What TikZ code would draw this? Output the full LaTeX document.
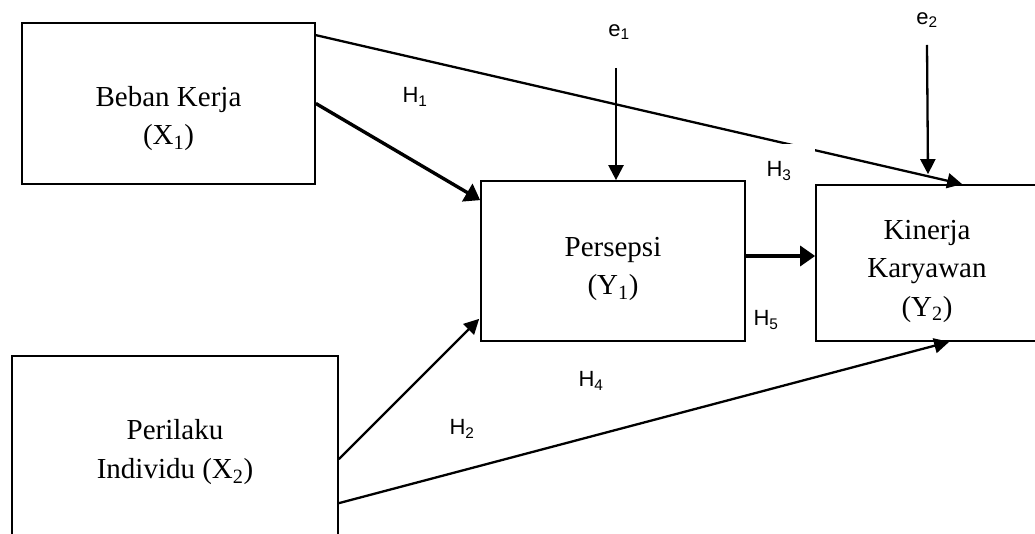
\documentclass[tikz,border=0pt]{standalone}
\usepackage{fontspec}
\setmainfont{Liberation Serif}
\newfontfamily\arialf{Liberation Sans}
\usetikzlibrary{arrows.meta,calc}
\begin{document}
\begin{tikzpicture}[x=1pt,y=-1pt,
  box/.style={draw,line width=1.7pt,inner sep=0pt},
  boxtext/.style={align=center,inner sep=0pt,font=\fontsize{29}{38.5}\selectfont},
  lbl/.style={font=\arialf\fontsize{22}{24}\selectfont,inner sep=1pt},
  arr/.style={line width=2.3pt,-{Triangle[length=15pt,width=15pt]}},
  boldarr/.style={line width=3.4pt,-{Triangle[length=15pt,width=20pt]}}]
\useasboundingbox (0,0) rectangle (1035,534);
\clip (0,0) rectangle (1035,534);

% boxes
\node[box,minimum width=293pt,minimum height=161pt] (x1) at (168.5,103.5) {};
\node[box,minimum width=326pt,minimum height=192pt] (x2) at (175,452) {};
\node[box,minimum width=264pt,minimum height=160pt] (y1) at (613,261) {};
\node[box,minimum width=222pt,minimum height=156pt] (y2) at (927,263) {};

% box texts
\node[boxtext] (x1t) at ($(x1)+(0,15)$) {Beban Kerja\\(X\textsubscript{1})};
\node[boxtext] (x2t) at (x2) {Perilaku\\Individu (X\textsubscript{2})};
\node[boxtext] (y1t) at ($(y1)+(0,8)$) {Persepsi\\(Y\textsubscript{1})};
\node[boxtext] (y2t) at ($(y2)+(0,8)$) {Kinerja\\Karyawan\\(Y\textsubscript{2})};

% labels
\node[lbl] (h1) at (415,97) {H\textsubscript{1}};
\node[lbl] (h2) at (462,429) {H\textsubscript{2}};
\node[lbl] (h4) at (591,381) {H\textsubscript{4}};
\node[lbl] (h5) at (766,320) {H\textsubscript{5}};
\node[lbl] (e1) at (619,32) {e\textsubscript{1}};
\node[lbl] (e2) at (927,20) {e\textsubscript{2}};

% H3 path (with gap behind its label)
\draw[arr] ($(x1.north east)+(0,13)$) -- ($(y2.north west)+(147,0)$);
\fill[white] (750,144) rectangle (814.6,197);
\node[lbl] (h3) at (779,171) {H\textsubscript{3}};

% other connectors
\draw[boldarr] (x1.east) -- ($(y1.north west)+(0,20)$);
\draw[boldarr] ($(y1.east)+(0,-5)$) -- ($(y2.west)+(0,-7)$);
\draw[arr] ($(x2.north east)+(0,104)$) -- ($(y1.south west)+(-1,-23)$);
\draw[arr] ($(x2.north east)+(0,148)$) -- ($(y2.south west)+(134,0)$);

\coordinate (e1s) at (616,68);
\coordinate (e2s) at (927,45);
\draw[arr] (e1s) -- (e1s |- y1.north);
\draw[arr] (e2s) -- ($(e2s |- y2.north)+(1,-10)$);
\end{tikzpicture}
\end{document}
